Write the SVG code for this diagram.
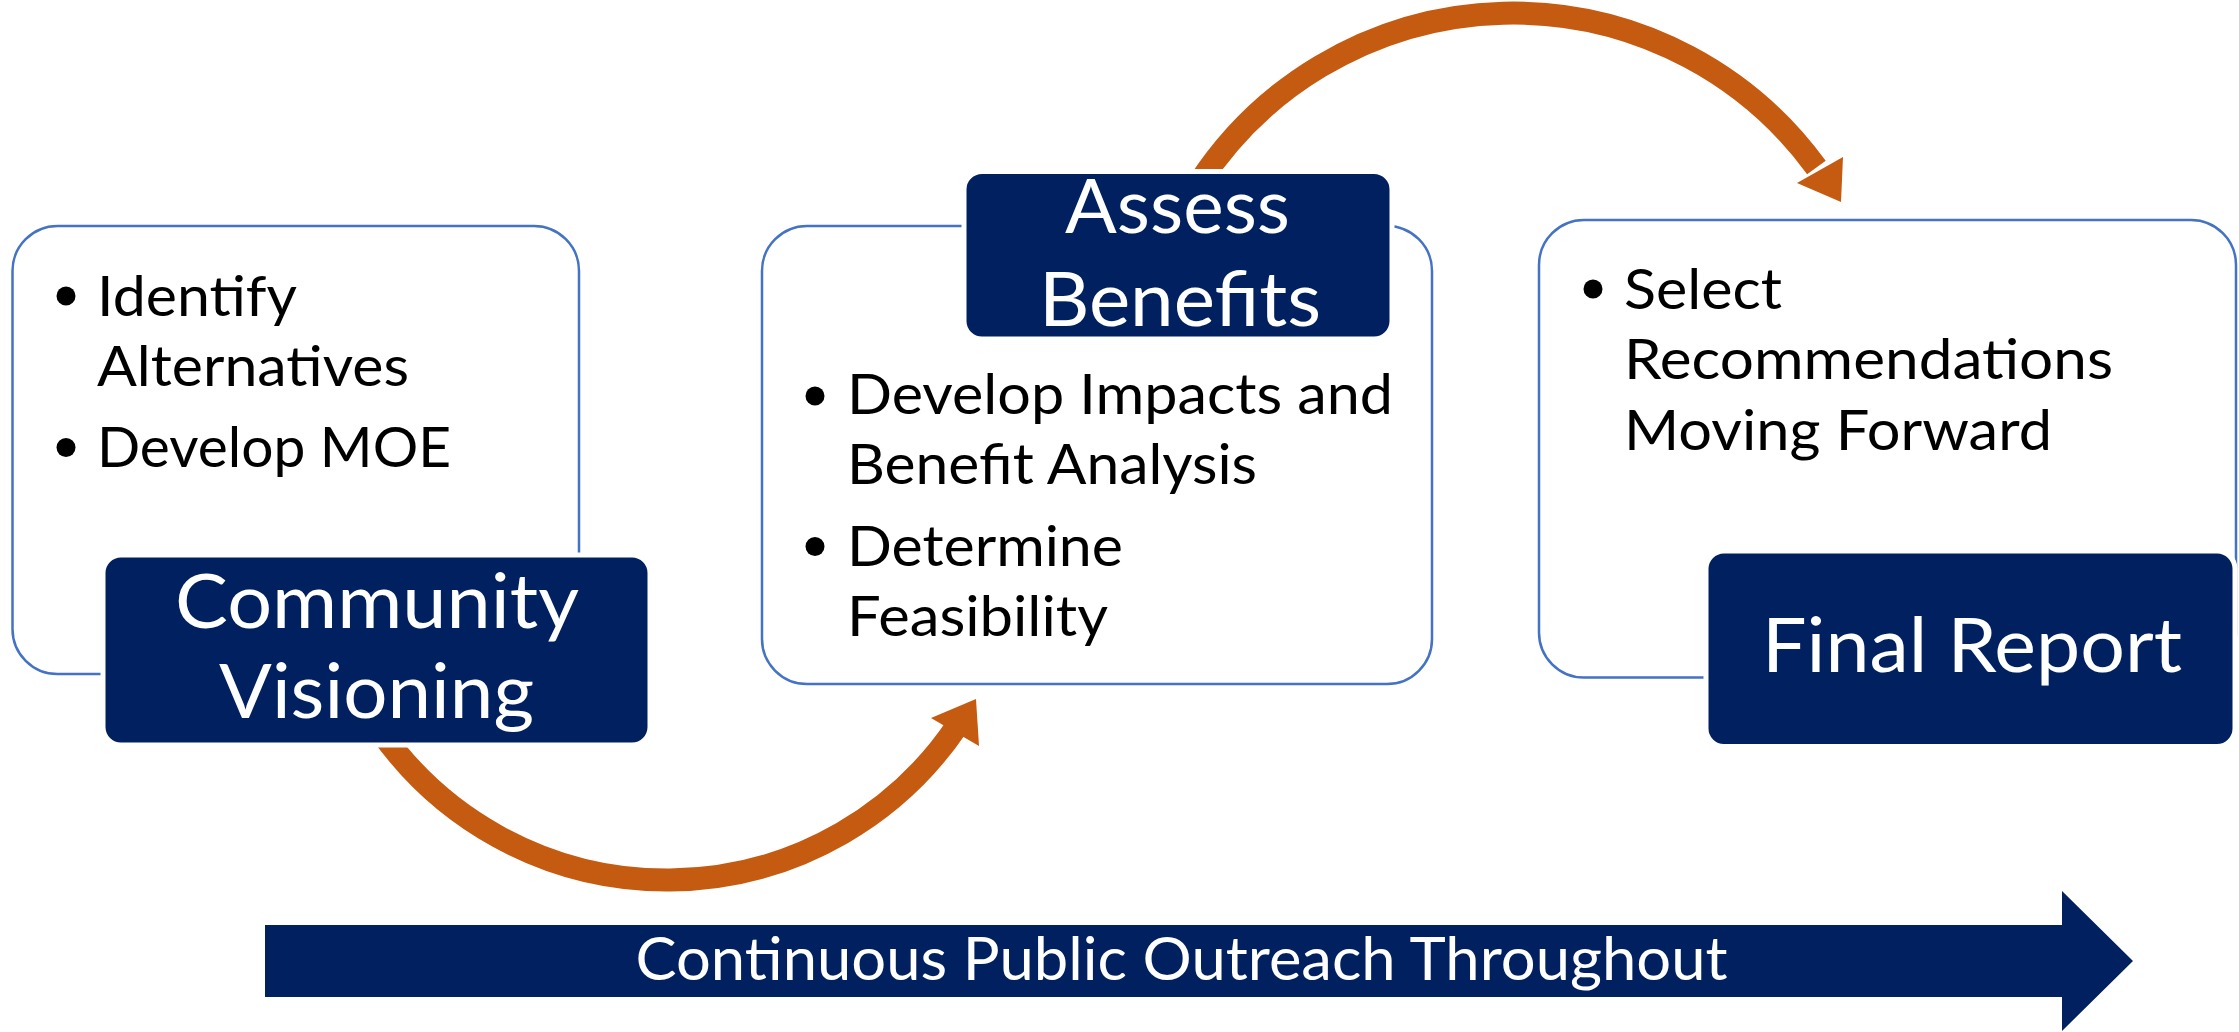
<svg xmlns="http://www.w3.org/2000/svg" width="2239" height="1032" viewBox="0 0 2239 1032">
  <style>
    .outer { fill: #FFFFFF; stroke: #4472C4; stroke-width: 2.5; }
    .title { fill: #002060; stroke: #FFFFFF; stroke-width: 5; }
    .body { font-family: Lato, "Open Sans", "Liberation Sans", sans-serif; font-size: 56px; fill: #000000; }
    .head { font-family: Lato, "Open Sans", "Liberation Sans", sans-serif; font-size: 76px; fill: #FFFFFF; text-anchor: middle; }
    .band { font-family: Lato, "Open Sans", "Liberation Sans", sans-serif; font-size: 60px; fill: #FFFFFF; text-anchor: middle; }
    .bullet { fill: #000000; }
    .arc { fill: none; stroke: #C55A11; stroke-width: 23; }
    .arrowhead { fill: #C55A11; }
  </style>
  <rect x="0" y="0" width="2239" height="1032" fill="#FFFFFF"/>

  <g id="connectors">
    <path class="arc" d="M 380.3 730.8 A 350 350 0 0 0 957.2 725.7"/>
    <polygon class="arrowhead" points="976,699 931,718 979,746"/>
    <path class="arc" d="M 1198.5 183.8 A 375 375 0 0 1 1816.4 167.6"/>
    <polygon class="arrowhead" points="1841,202 1797,183 1843,157"/>
  </g>

  <g id="community-visioning">
    <rect class="outer" x="12.5" y="226" width="566.5" height="448" rx="45" ry="45"/>
    <circle class="bullet" cx="66" cy="296" r="9.5"/>
    <text class="body" x="97" y="316" textLength="200" lengthAdjust="spacingAndGlyphs">Identify</text>
    <text class="body" x="97" y="386" textLength="312" lengthAdjust="spacingAndGlyphs">Alternatives</text>
    <circle class="bullet" cx="66" cy="447.5" r="9.5"/>
    <text class="body" x="97" y="467" textLength="354" lengthAdjust="spacingAndGlyphs">Develop MOE</text>
    <rect class="title" x="103" y="555" width="547" height="190" rx="18" ry="18"/>
    <text class="head" x="377" y="628" textLength="404" lengthAdjust="spacingAndGlyphs">Community</text>
    <text class="head" x="376.5" y="718" textLength="315" lengthAdjust="spacingAndGlyphs">Visioning</text>
  </g>

  <g id="assess-benefits">
    <rect class="outer" x="762" y="226" width="670" height="458" rx="45" ry="45"/>
    <circle class="bullet" cx="815" cy="396" r="9.5"/>
    <text class="body" x="847" y="414" textLength="546" lengthAdjust="spacingAndGlyphs">Develop Impacts and</text>
    <text class="body" x="847" y="484" textLength="410" lengthAdjust="spacingAndGlyphs">Benefit Analysis</text>
    <circle class="bullet" cx="815" cy="546.5" r="9.5"/>
    <text class="body" x="847" y="566" textLength="276" lengthAdjust="spacingAndGlyphs">Determine</text>
    <text class="body" x="847" y="636" textLength="261" lengthAdjust="spacingAndGlyphs">Feasibility</text>
    <rect class="title" x="964" y="171.5" width="428" height="167.5" rx="18" ry="18"/>
    <text class="head" x="1177.5" y="233" textLength="225" lengthAdjust="spacingAndGlyphs">Assess</text>
    <text class="head" x="1180" y="326" textLength="282" lengthAdjust="spacingAndGlyphs">Benefits</text>
  </g>

  <g id="final-report">
    <rect class="outer" x="1539" y="220" width="697" height="457.5" rx="45" ry="45"/>
    <circle class="bullet" cx="1593" cy="289" r="9.5"/>
    <text class="body" x="1624" y="309" textLength="158" lengthAdjust="spacingAndGlyphs">Select</text>
    <text class="body" x="1624" y="379" textLength="489" lengthAdjust="spacingAndGlyphs">Recommendations</text>
    <text class="body" x="1624" y="450" textLength="428" lengthAdjust="spacingAndGlyphs">Moving Forward</text>
    <rect class="title" x="1706" y="551" width="529" height="195.5" rx="18" ry="18"/>
    <text class="head" x="1972" y="672" textLength="420" lengthAdjust="spacingAndGlyphs">Final Report</text>
  </g>

  <g id="public-outreach">
    <polygon fill="#002060" points="265,925 2062,925 2062,891 2133,961 2062,1031 2062,997 265,997"/>
    <text class="band" x="1181.5" y="980" textLength="1092" lengthAdjust="spacingAndGlyphs">Continuous Public Outreach Throughout</text>
  </g>
</svg>
